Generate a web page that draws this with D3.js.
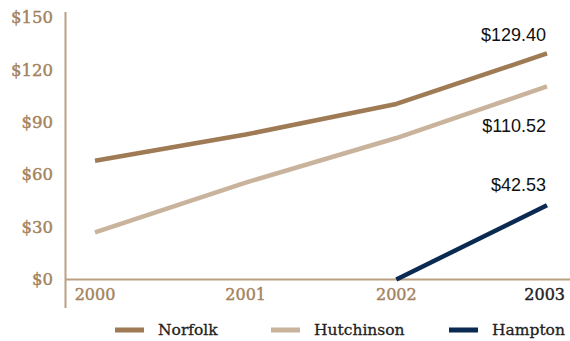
<!DOCTYPE html>
<html>
<head>
<meta charset="utf-8">
<script src="https://cdn.jsdelivr.net/npm/d3@7/dist/d3.min.js"></script>
<style>
  html, body { margin: 0; padding: 0; background: #fff; }
  svg { display: block; }
</style>
</head>
<body>
<svg id="chart" width="570" height="341"></svg>
<script>
// Years on the x axis
const years = ["2000", "2001", "2002", "2003"];
// Dividend values per series (null = no value that year)
const norfolk = [68, 83, 100.5, 129.40];
const hutchinson = [27, 55.5, 81, 110.52];
const hampton = [null, null, 0, 42.53];
// Y axis tick values
const yTicks = [0, 30, 60, 90, 120, 150];

const series = [
  { name: "Norfolk", values: norfolk, color: "#9e7b54", label: "$129.40" },
  { name: "Hutchinson", values: hutchinson, color: "#c9b39c", label: "$110.52" },
  { name: "Hampton", values: hampton, color: "#0b2a52", label: "$42.53" }
];

const svg = d3.select("#chart");
const axisColor = "#bba081";
const tickColor = "#a3825c";
const serif = "DejaVu Serif, Liberation Serif, serif";

const x = d3.scalePoint().domain(years).range([95, 547]);
const y = d3.scaleLinear().domain([0, 150]).range([279.5, 17.5]);

// Axis lines
svg.append("line")
  .attr("x1", 65.5).attr("x2", 65.5)
  .attr("y1", 12).attr("y2", 308)
  .attr("stroke", axisColor).attr("stroke-width", 2);
svg.append("line")
  .attr("x1", 65).attr("x2", 570)
  .attr("y1", 279.5).attr("y2", 279.5)
  .attr("stroke", axisColor).attr("stroke-width", 2);

// Y tick labels
svg.selectAll("text.ytick").data(yTicks).join("text")
  .attr("class", "ytick")
  .attr("x", 53)
  .attr("y", d => y(d))
  .attr("dy", "0.35em")
  .attr("text-anchor", "end")
  .attr("font-family", serif)
  .attr("font-size", 16.5)
  .attr("fill", tickColor)
  .attr("stroke", tickColor)
  .attr("stroke-width", 0.4)
  .text(d => "$" + d);

// X tick labels (last one right-aligned to stay inside the frame)
svg.selectAll("text.xtick").data(years).join("text")
  .attr("class", "xtick")
  .attr("x", (d, i) => i === years.length - 1 ? 565 : x(d))
  .attr("y", 300)
  .attr("text-anchor", (d, i) => i === years.length - 1 ? "end" : "middle")
  .attr("font-family", serif)
  .attr("font-size", 16)
  .attr("fill", (d, i) => i === years.length - 1 ? "#1e1e1e" : tickColor)
  .attr("stroke", (d, i) => i === years.length - 1 ? "#1e1e1e" : tickColor)
  .attr("stroke-width", 0.4)
  .text(d => d);

// Lines
const line = d3.line()
  .defined(d => d != null)
  .x((d, i) => x(years[i]))
  .y(d => y(d));

series.forEach(s => {
  svg.append("path")
    .attr("d", line(s.values))
    .attr("fill", "none")
    .attr("stroke", s.color)
    .attr("stroke-width", 4.5)
    .attr("stroke-linejoin", "round");
});

// End-of-line value labels
const labelY = { "Norfolk": 35, "Hutchinson": 126, "Hampton": 185 };
series.forEach(s => {
  svg.append("text")
    .attr("x", 546)
    .attr("y", labelY[s.name])
    .attr("dy", "0.35em")
    .attr("text-anchor", "end")
    .attr("font-family", "Liberation Sans, Arial, sans-serif")
    .attr("font-size", 18)
    .attr("fill", "#111")
    .text(s.label);
});

// Legend
const legendX = [115, 271, 449];
series.forEach((s, i) => {
  const g = svg.append("g").attr("transform", `translate(${legendX[i]},330)`);
  g.append("rect")
    .attr("x", 0).attr("y", -2.5)
    .attr("width", 29).attr("height", 5)
    .attr("fill", s.color);
  g.append("text")
    .attr("x", 43).attr("y", 0)
    .attr("dy", "0.35em")
    .attr("font-family", serif)
    .attr("font-size", 15.5)
    .attr("fill", "#222")
    .attr("stroke", "#222")
    .attr("stroke-width", 0.3)
    .text(s.name);
});
</script>
</body>
</html>
